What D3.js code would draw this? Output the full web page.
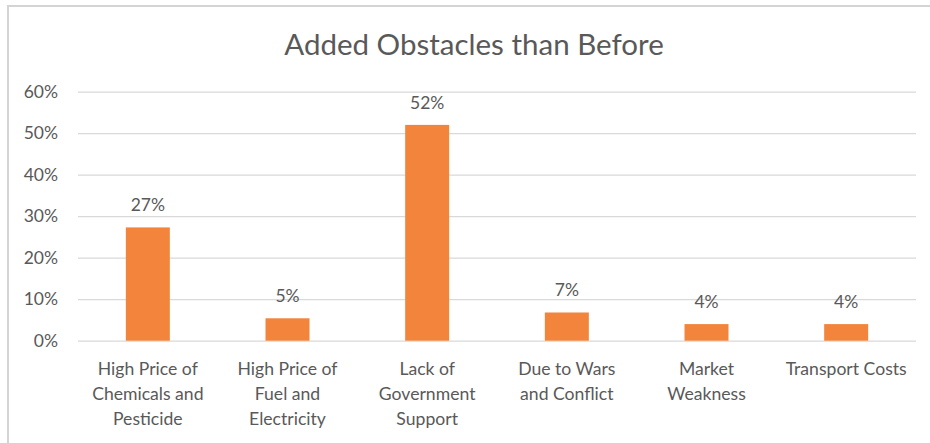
<!DOCTYPE html>
<html>
<head>
<meta charset="utf-8">
<script src="https://cdn.jsdelivr.net/npm/d3@7"></script>
<style>
  html, body { margin: 0; padding: 0; background: #fff; }
  svg { display: block; }
  text { font-family: Lato, "Open Sans", sans-serif; fill: #595959; }
</style>
</head>
<body>
<svg id="chart" width="930" height="443"></svg>
<script>
// Obstacle categories (wrapped onto lines as they appear under the axis)
const categories = [
  ["High Price of", "Chemicals and", "Pesticide"],
  ["High Price of", "Fuel and", "Electricity"],
  ["Lack of", "Government", "Support"],
  ["Due to Wars", "and Conflict"],
  ["Market", "Weakness"],
  ["Transport Costs"]
];
// Share of respondents reporting each obstacle
const values = [0.273, 0.054, 0.520, 0.068, 0.040, 0.040];
// Y axis ticks
const yTicks = [0, 0.1, 0.2, 0.3, 0.4, 0.5, 0.6];
const titleText = "Added Obstacles than Before";

const svg = d3.select("#chart");
const W = 930, H = 443;
const plot = { left: 78, right: 916, top: 91.7, bottom: 340.7 };

// Chart frame (top and left edges visible)
svg.append("line").attr("x1", 8).attr("x2", W).attr("y1", 6).attr("y2", 6)
  .attr("stroke", "#d4d4d4").attr("stroke-width", 2);
svg.append("line").attr("x1", 8).attr("x2", 8).attr("y1", 5).attr("y2", H)
  .attr("stroke", "#d4d4d4").attr("stroke-width", 2);

const x = d3.scaleBand()
  .domain(d3.range(categories.length))
  .range([plot.left, plot.right])
  .paddingInner(0.685)
  .paddingOuter(0.3425);

const y = d3.scaleLinear().domain([0, 0.6]).range([plot.bottom, plot.top]);

// Gridlines + tick labels
const yAxis = d3.axisLeft(y)
  .tickValues(yTicks)
  .tickFormat(d3.format(".0%"))
  .tickSize(-(plot.right - plot.left))
  .tickPadding(20);
const gy = svg.append("g").attr("transform", `translate(${plot.left},0)`).call(yAxis);
gy.select(".domain").remove();
gy.selectAll(".tick line").attr("stroke", "#d9d9d9").attr("stroke-width", 1.3);
gy.selectAll(".tick text").attr("font-size", 17.5).attr("fill", "#595959")
  .style("font-family", "Lato, sans-serif");

// Bars
svg.append("g").selectAll("rect").data(values).join("rect")
  .attr("x", (d, i) => x(i))
  .attr("width", x.bandwidth())
  .attr("y", d => y(d))
  .attr("height", d => y(0) - y(d))
  .attr("fill", "#f2843b");

// Value labels
svg.append("g").selectAll("text").data(values).join("text")
  .attr("x", (d, i) => x(i) + x.bandwidth() / 2)
  .attr("y", d => y(d) - 16)
  .attr("text-anchor", "middle")
  .attr("font-size", 17.5)
  .text(d => d3.format(".0%")(d));

// Category labels
const xLabels = svg.append("g").selectAll("text").data(categories).join("text")
  .attr("x", (d, i) => x(i) + x.bandwidth() / 2)
  .attr("y", 375)
  .attr("text-anchor", "middle")
  .attr("font-size", 17.6);
xLabels.selectAll("tspan").data(d => d).join("tspan")
  .attr("x", function () { return this.parentNode.getAttribute("x"); })
  .attr("dy", (d, i) => i === 0 ? 0 : 25)
  .text(d => d);

// Title
svg.append("text")
  .attr("x", 474)
  .attr("y", 55)
  .attr("text-anchor", "middle")
  .attr("font-size", 29.5)
  .text(titleText);
</script>
</body>
</html>
